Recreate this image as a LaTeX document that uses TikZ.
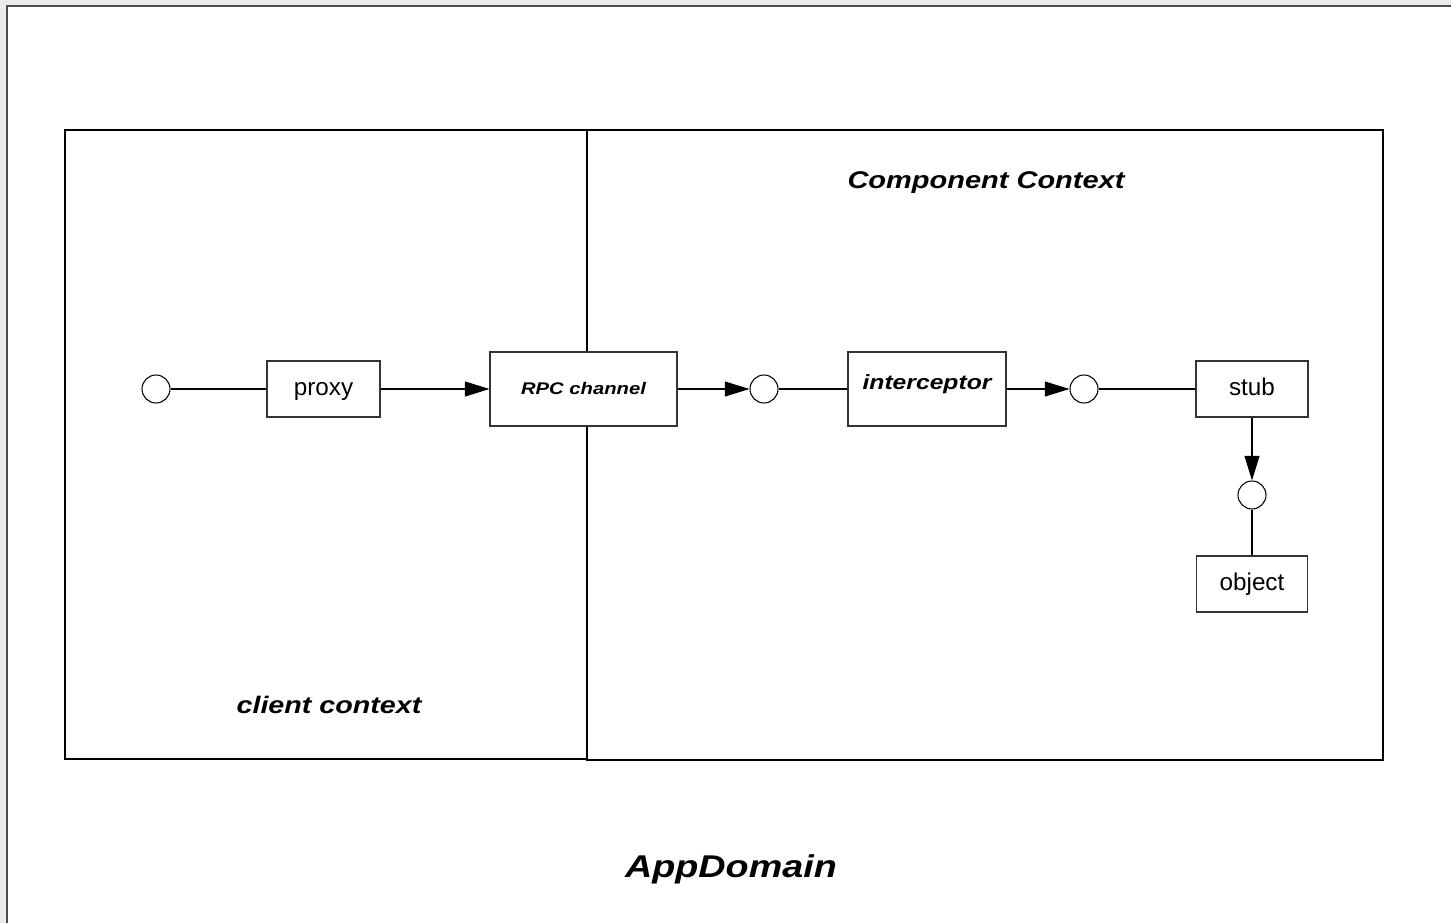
\documentclass[tikz,border=0pt]{standalone}
\usepackage{fontspec}
\setmainfont{Liberation Sans}
\newfontfamily\widesans[FakeStretch=1.2]{Liberation Sans}
\usetikzlibrary{arrows.meta,positioning}
\tikzset
{
  context/.style={draw=black,line width=0.6pt},
  part/.style={draw=black!80,fill=white,line width=0.6pt,inner sep=0pt,text height=10pt,text depth=2.8pt,font=\fontsize{13.8}{16}\selectfont},
  boldpart/.style={part,font=\widesans\fontsize{#1}{14}\selectfont\bfseries\itshape},
  port/.style={circle,draw=black,fill=white,line width=0.6pt,minimum size=0.56cm,inner sep=0pt},
  link/.style={line width=0.6pt},
  call/.style={link,-{Triangle[length=14pt,width=8.5pt]}},
  label/.style={anchor=base,font=\widesans\fontsize{#1}{18}\selectfont\bfseries\itshape}
}

\begin{document}
\begin{tikzpicture}[x=0.02cm,y=-0.02cm,line cap=butt,line join=miter]
            % ozadje in okvir
            \useasboundingbox (0,0) rectangle (1451,923);
            \fill[black!8] (0,0) rectangle (1451,923);
            \fill[white] (7,6) rectangle (1451,923);
            \draw[black!70,line width=1.1pt] (7,923) -- (7,6) -- (1451,6);
            % konteksti
            \draw[context] (65,130) rectangle (587,759);
            \draw[context] (587,130) rectangle (1383,760);
            \node[label=13.75] (comp) at (986,188) {Component Context};
            \node[label=13.6] (client) at (329,713) {client context};
            \node[label=17.9] (domain) at (731,877) {AppDomain};
            % deli
            \node[port] (p1) at (156,389) {};
            \node[part,minimum width=2.26cm,minimum height=1.12cm] (proxy) at (323.5,389) {proxy};
            \node[boldpart=9.6,text height=7pt,text depth=0.2pt,minimum width=3.74cm,minimum height=1.48cm] (rpc) at (583.5,389) {RPC channel};
            \node[boldpart=11.7,text height=8.4pt,text depth=7.6pt,minimum width=3.16cm,minimum height=1.48cm] (icpt) at (927,389) {interceptor};
            \node[port] (p2) at (764,389) {};
            \node[port] (p3) at (1084,389) {};
            \node[part,minimum width=2.24cm,minimum height=1.12cm] (stub) at (1252,389) {stub};
            \node[port] (p4) at (1252,495) {};
            \node[part,minimum width=2.22cm,minimum height=1.12cm] (object) at (1252,584) {object};
            % povezave
            \draw[link] (p1) -- (proxy);
            \draw[call] (proxy) -- (rpc);
            \draw[call] (rpc) -- (p2);
            \draw[link] (p2) -- (icpt);
            \draw[call] (icpt) -- (p3);
            \draw[link] (p3) -- (stub);
            \draw[call] (stub) -- (p4);
            \draw[link] (p4) -- (object);
        \end{tikzpicture}
\end{document}
